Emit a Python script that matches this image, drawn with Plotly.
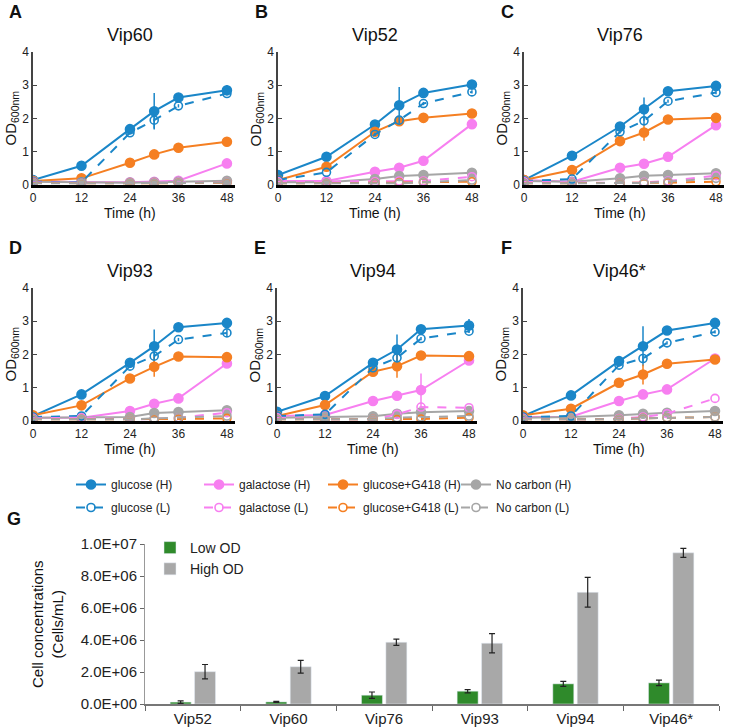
import plotly.graph_objects as go

# sampling times (h) for the OD600 growth curves
time_h = [0, 12, 24, 30, 36, 48]

strains = ["Vip60", "Vip52", "Vip76", "Vip93", "Vip94", "Vip46*"]
panel_letters = ["A", "B", "C", "D", "E", "F"]

conditions = ["glucose (H)", "galactose (H)", "glucose+G418 (H)", "No carbon (H)",
              "glucose (L)", "galactose (L)", "glucose+G418 (L)", "No carbon (L)"]

# OD600 values, one list per condition
vip60 = {
    "glucose (H)": [0.15, 0.58, 1.68, 2.22, 2.63, 2.85],
    "galactose (H)": [0.12, 0.08, 0.08, 0.10, 0.13, 0.65],
    "glucose+G418 (H)": [0.12, 0.20, 0.67, 0.92, 1.12, 1.30],
    "No carbon (H)": [0.10, 0.08, 0.07, 0.08, 0.10, 0.13],
    "glucose (L)": [0.10, 0.08, 1.57, 1.95, 2.38, 2.75],
    "galactose (L)": [0.08, 0.06, 0.06, 0.07, 0.08, 0.08],
    "glucose+G418 (L)": [0.06, 0.05, 0.05, 0.05, 0.06, 0.07],
    "No carbon (L)": [0.05, 0.05, 0.05, 0.05, 0.06, 0.08],
}
vip52 = {
    "glucose (H)": [0.30, 0.85, 1.82, 2.40, 2.77, 3.02],
    "galactose (H)": [0.12, 0.12, 0.40, 0.52, 0.73, 1.83],
    "glucose+G418 (H)": [0.15, 0.55, 1.60, 1.92, 2.02, 2.15],
    "No carbon (H)": [0.08, 0.08, 0.18, 0.27, 0.30, 0.37],
    "glucose (L)": [0.15, 0.38, 1.52, 1.95, 2.45, 2.80],
    "galactose (L)": [0.10, 0.10, 0.10, 0.12, 0.12, 0.25],
    "glucose+G418 (L)": [0.05, 0.05, 0.05, 0.07, 0.08, 0.10],
    "No carbon (L)": [0.05, 0.05, 0.05, 0.05, 0.08, 0.15],
}
vip76 = {
    "glucose (H)": [0.15, 0.88, 1.76, 2.28, 2.82, 2.98],
    "galactose (H)": [0.15, 0.10, 0.52, 0.64, 0.85, 1.80],
    "glucose+G418 (H)": [0.15, 0.45, 1.32, 1.58, 1.97, 2.02],
    "No carbon (H)": [0.12, 0.10, 0.20, 0.28, 0.30, 0.35],
    "glucose (L)": [0.12, 0.18, 1.60, 1.93, 2.52, 2.78],
    "galactose (L)": [0.10, 0.08, 0.06, 0.08, 0.12, 0.28],
    "glucose+G418 (L)": [0.05, 0.05, 0.05, 0.05, 0.07, 0.10],
    "No carbon (L)": [0.05, 0.05, 0.05, 0.06, 0.10, 0.20],
}
vip93 = {
    "glucose (H)": [0.15, 0.80, 1.75, 2.25, 2.82, 2.95],
    "galactose (H)": [0.10, 0.10, 0.30, 0.52, 0.68, 1.73],
    "glucose+G418 (H)": [0.17, 0.47, 1.28, 1.63, 1.94, 1.92],
    "No carbon (H)": [0.10, 0.10, 0.12, 0.24, 0.27, 0.32],
    "glucose (L)": [0.12, 0.15, 1.65, 1.95, 2.45, 2.65],
    "galactose (L)": [0.08, 0.10, 0.05, 0.06, 0.10, 0.25],
    "glucose+G418 (L)": [0.05, 0.05, 0.05, 0.05, 0.06, 0.08],
    "No carbon (L)": [0.05, 0.05, 0.05, 0.08, 0.10, 0.15],
}
vip94 = {
    "glucose (H)": [0.28, 0.75, 1.75, 2.15, 2.76, 2.87],
    "galactose (H)": [0.15, 0.18, 0.60, 0.76, 0.93, 1.82],
    "glucose+G418 (H)": [0.15, 0.48, 1.48, 1.65, 1.97, 1.95],
    "No carbon (H)": [0.10, 0.12, 0.14, 0.22, 0.26, 0.30],
    "glucose (L)": [0.15, 0.20, 1.60, 1.90, 2.48, 2.70],
    "galactose (L)": [0.10, 0.05, 0.05, 0.20, 0.42, 0.40],
    "glucose+G418 (L)": [0.05, 0.05, 0.05, 0.05, 0.06, 0.10],
    "No carbon (L)": [0.05, 0.05, 0.05, 0.10, 0.12, 0.15],
}
vip46 = {
    "glucose (H)": [0.15, 0.77, 1.80, 2.25, 2.72, 2.95],
    "galactose (H)": [0.12, 0.13, 0.60, 0.80, 0.95, 1.88],
    "glucose+G418 (H)": [0.17, 0.37, 1.15, 1.40, 1.72, 1.85],
    "No carbon (H)": [0.10, 0.12, 0.17, 0.22, 0.25, 0.30],
    "glucose (L)": [0.12, 0.15, 1.68, 1.88, 2.35, 2.68],
    "galactose (L)": [0.08, 0.05, 0.07, 0.12, 0.22, 0.68],
    "glucose+G418 (L)": [0.05, 0.05, 0.05, 0.08, 0.10, 0.12],
    "No carbon (L)": [0.05, 0.05, 0.05, 0.08, 0.10, 0.12],
}
od_data = [vip60, vip52, vip76, vip93, vip94, vip46]

# error bars (SD) where visible; missing conditions have none
vip60_err = {"glucose (H)": [0, 0, 0.05, 0.55, 0.05, 0.15], "glucose (L)": [0, 0, 0.05, 0.25, 0.05, 0.05]}
vip52_err = {"glucose (H)": [0, 0, 0.05, 0.55, 0.05, 0.05], "glucose+G418 (H)": [0, 0, 0.1, 0.05, 0.1, 0],
             "galactose (H)": [0, 0, 0, 0.1, 0, 0], "glucose (L)": [0, 0, 0.05, 0.1, 0.05, 0.05]}
vip76_err = {"glucose (H)": [0, 0, 0.05, 0.35, 0.05, 0.05], "glucose+G418 (H)": [0, 0, 0, 0.25, 0, 0],
             "glucose (L)": [0, 0, 0.05, 0.1, 0.05, 0.05]}
vip93_err = {"glucose (H)": [0, 0, 0.05, 0.5, 0.05, 0.05], "glucose+G418 (H)": [0, 0, 0, 0.3, 0, 0],
             "glucose (L)": [0, 0, 0.05, 0.1, 0.05, 0.1]}
vip94_err = {"glucose (H)": [0, 0, 0.05, 0.45, 0.05, 0.2], "glucose+G418 (H)": [0, 0, 0, 0.35, 0, 0],
             "galactose (H)": [0, 0, 0, 0, 0.5, 0], "glucose (L)": [0, 0, 0.05, 0.1, 0.05, 0.05]}
vip46_err = {"glucose (H)": [0, 0, 0.05, 0.6, 0.12, 0.12], "glucose+G418 (H)": [0, 0, 0, 0.3, 0.1, 0],
             "glucose (L)": [0, 0, 0.05, 0.1, 0.05, 0.05]}
od_err = [vip60_err, vip52_err, vip76_err, vip93_err, vip94_err, vip46_err]

# panel G: cell concentrations
bar_strains = ["Vip52", "Vip60", "Vip76", "Vip93", "Vip94", "Vip46*"]
low_od = [0.12e6, 0.13e6, 0.55e6, 0.80e6, 1.26e6, 1.32e6]
low_od_err = [0.08e6, 0.03e6, 0.2e6, 0.1e6, 0.16e6, 0.17e6]
high_od = [2.02e6, 2.33e6, 3.86e6, 3.80e6, 6.98e6, 9.45e6]
high_od_err = [0.45e6, 0.4e6, 0.2e6, 0.6e6, 0.93e6, 0.28e6]
g_ticks = [0, 2e6, 4e6, 6e6, 8e6, 1e7]
g_ticktext = ["0.0E+00", "2.0E+06", "4.0E+06", "6.0E+06", "8.0E+06", "1.0E+07"]

colors = {"glucose": "#1a86c8", "galactose": "#f77ff0", "glucose+G418": "#f57f22", "No carbon": "#a6a6a6"}

W, H = 748, 728
FONT = "Liberation Sans, Arial, Helvetica, sans-serif"

# pixel boxes of the six OD panels: (left, right, top, bottom)
boxes = [(33, 235, 52, 185), (278, 480, 52, 185), (524, 724, 52, 185),
         (33, 235, 288, 421), (277, 477, 288, 421), (523, 723, 288, 421)]
# one legend per column of the condition key
legend_cols = [71, 199, 323, 456]


def px_x(v):
    return v / W


def px_y(v):
    return 1 - v / H


def label(text, x, y, size, **kw):
    d = dict(text=text, x=px_x(x), y=px_y(y), xref="paper", yref="paper", showarrow=False,
             xanchor="center", yanchor="middle", font=dict(size=size, color="#111", family=FONT))
    d.update(kw)
    return d


fig = go.Figure()
layout = {}
annotations = []
legend_names = ["legend", "legend3", "legend4", "legend5"]

for i, (name, data, err) in enumerate(zip(strains, od_data, od_err)):
    n = i + 1
    xa, ya = ("x" if n == 1 else f"x{n}"), ("y" if n == 1 else f"y{n}")
    for k, cond in enumerate(conditions):
        base = cond.rsplit(" (", 1)[0]
        high = cond.endswith("(H)")
        e = err.get(cond)
        fig.add_trace(go.Scatter(
            x=time_h, y=data[cond], name=cond, xaxis=xa, yaxis=ya,
            mode="lines+markers",
            line=dict(color=colors[base], width=2, dash="solid" if high else "dash"),
            marker=dict(symbol="circle" if high else "circle-open", size=9 if high else 8,
                        color=colors[base], line=dict(width=1.6, color=colors[base])),
            error_y=dict(type="data", array=e, color=colors[base], thickness=1.5, width=0,
                         visible=e is not None),
            showlegend=(i == 0), legend=legend_names[k % 4], legendgroup=cond, legendrank=k + 1,
        ))
    l, r, t, b = boxes[i]
    layout[f"xaxis{n}"] = dict(
        domain=[px_x(l), px_x(r)], range=[0, 50], anchor=ya, automargin=False,
        tickvals=[0, 12, 24, 36, 48], ticks="", showline=True, linecolor="black", linewidth=3,
        showgrid=False, zeroline=False, tickfont=dict(size=12, color="#222"),
    )
    layout[f"yaxis{n}"] = dict(
        domain=[px_y(b), px_y(t)], range=[0, 4], anchor=xa, automargin=False,
        tickvals=[0, 1, 2, 3, 4], ticks="inside", ticklen=4, tickcolor="#444",
        showline=True, linecolor="#444", linewidth=1.5, showgrid=False, zeroline=False,
        tickfont=dict(size=12, color="#222"),
    )
    x48 = l + (r - l) * 48 / 50
    annotations.append(label(name, (l + x48) / 2, t - 17, 18))
    annotations.append(label("Time (h)", (l + x48) / 2, b + 28, 14))
    annotations.append(label("OD<sub>600nm</sub>", l - 22, (t + b) / 2, 15, textangle=-90))
    annotations.append(label(f"<b>{panel_letters[i]}</b>", l - 17, t - 40, 18))

# panel G bars
fig.add_trace(go.Bar(
    x=bar_strains, y=low_od, name="Low OD", marker_color="#2f8a2b", xaxis="x7", yaxis="y7",
    error_y=dict(type="data", array=low_od_err, color="#222", thickness=1.2, width=3),
    legend="legend2",
))
fig.add_trace(go.Bar(
    x=bar_strains, y=high_od, name="High OD", marker_color="#a8a8a8", xaxis="x7", yaxis="y7",
    error_y=dict(type="data", array=high_od_err, color="#222", thickness=1.2, width=3),
    legend="legend2",
))
layout["xaxis7"] = dict(
    domain=[px_x(145), px_x(719)], anchor="y7", type="category", tickson="boundaries", automargin=False,
    ticks="outside", ticklen=5, tickcolor="#666", showline=True, linecolor="#777", linewidth=1.5,
    showgrid=False, tickfont=dict(size=15, color="#222"),
)
layout["yaxis7"] = dict(
    domain=[px_y(704), px_y(544)], anchor="x7", range=[0, 1e7], tickvals=g_ticks, ticktext=g_ticktext,
    automargin=False, ticks="outside", ticklen=4, tickcolor="#666", showline=True, linecolor="#999",
    linewidth=1, showgrid=False, zeroline=False, tickfont=dict(size=15, color="#222"),
)
annotations.append(label("Cell concentrations<br>(Cells/mL)", 47, 624, 15, textangle=-90))
annotations.append(label("<b>G</b>", 14, 519, 18))

legends = {}
for name, x in zip(legend_names, legend_cols):
    legends[name] = dict(x=px_x(x), y=px_y(470), xanchor="left", yanchor="top", itemwidth=30,
                         tracegroupgap=4, font=dict(size=12, color="#222"), bgcolor="rgba(0,0,0,0)")

fig.update_layout(
    width=W, height=H, margin=dict(l=0, r=0, t=0, b=0, autoexpand=False),
    paper_bgcolor="white", plot_bgcolor="white",
    font=dict(family=FONT, color="#222"),
    barmode="group", bargap=0.49, bargroupgap=0.14,
    legend2=dict(x=px_x(150), y=px_y(532), xanchor="left", yanchor="top", itemwidth=30,
                 font=dict(size=14, color="#222"), tracegroupgap=0, bgcolor="rgba(0,0,0,0)"),
    annotations=annotations,
    **legends,
    **layout,
)

# drop the page's default body margin so the figure fills the window exactly
fig.write_html("out.html", config={"displayModeBar": False},
               post_script="document.body.style.margin = '0';")
